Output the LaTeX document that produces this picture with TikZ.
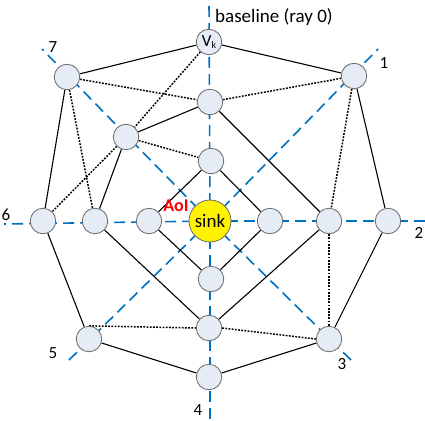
\documentclass[tikz,border=0pt]{standalone}
\usepackage{fontspec}
\setmainfont{Carlito}
\usetikzlibrary{backgrounds}
\definecolor{nodefill}{RGB}{230,236,246}
\definecolor{nodeline}{RGB}{105,105,105}
\definecolor{raycol}{RGB}{0,112,192}
\tikzset{
  vx/.style={circle, draw=nodeline, line width=0.8pt, fill=nodefill, minimum size=25.5pt, inner sep=0pt},
  sinknode/.style={circle, draw=nodeline, line width=0.8pt, fill=yellow, minimum size=42pt, inner sep=0pt, font=\fontsize{19}{19}\selectfont},
  solidedge/.style={draw=black, line width=1.1pt},
  dotedge/.style={draw=black, line width=1.5pt, dash pattern=on 1.8pt off 1.4pt},
  ray/.style={draw=raycol, line width=1.6pt, dash pattern=on 11pt off 6pt},
  lab/.style={font=\fontsize{17}{17}\selectfont, inner sep=0pt}
}
\begin{document}
\begin{tikzpicture}[x=1pt,y=-1pt]
\useasboundingbox (0,0) rectangle (425,420);
% nodes
\node[vx, font=\fontsize{17}{17}\selectfont] (vk) at (209,42) {V\raisebox{-1.5pt}{\fontsize{10}{10}\selectfont k}};
\node[vx] (n7) at (67,77) {};
\node[vx] (n1) at (354,76) {};
\node[vx] (t2) at (210,102) {};
\node[vx] (a2) at (126,137) {};
\node[vx] (t1) at (211,161) {};
\node[vx] (n6) at (43,221) {};
\node[vx] (l2) at (95,221) {};
\node[vx] (l1) at (149,221) {};
\node[sinknode] (sink) at (210,221) {sink};
\node[vx] (r1) at (270,221) {};
\node[vx] (r2) at (329,221) {};
\node[vx] (n2) at (388,221) {};
\node[vx] (b1) at (211,279) {};
\node[vx] (b2) at (209,328) {};
\node[vx] (n4) at (209,377) {};
\node[vx] (n5) at (89,339) {};
\node[vx] (n3) at (329,339) {};
% ray end points
\coordinate (e0) at (209,0);
\coordinate (e1) at (378,49);
\coordinate (e2) at (425,221);
\coordinate (e3) at (354,363);
\coordinate (e4) at (210,420);
\coordinate (e5) at (66,363);
\coordinate (e6) at (4,224);
\coordinate (e7) at (42,49);
% labels
\node[font=\fontsize{19}{19}\selectfont, inner sep=0pt, anchor=base west] (base) at (215,23) {baseline (ray 0)};
\node[lab] (l7) at (53,47) {7};
\node[lab] (lone) at (384,63) {1};
\node[lab] (ltwo) at (419,233) {2};
\node[lab] (lsix) at (6,215) {6};
\node[lab] (lfive) at (53,353) {5};
\node[lab] (lthree) at (342,364) {3};
\node[lab] (lfour) at (198,410.5) {4};
\node[font=\fontsize{18}{18}\selectfont\bfseries, text=red, inner sep=0pt] (aoi) at (176,206) {AoI};
\begin{pgfonlayer}{background}
\foreach \e in {e0,e1,e2,e3,e4,e5,e6,e7}
  \path[ray] (sink.center) -- (\e);
\path[solidedge] (vk) -- (n7);
\path[solidedge] (vk) -- (n1);
\path[solidedge] (n7) -- (n6);
\path[solidedge] (n1) -- (n2);
\path[solidedge] (n6) -- (n5);
\path[solidedge] (n2) -- (n3);
\path[solidedge] (n5) -- (n4);
\path[solidedge] (n3) -- (n4);
\path[solidedge] (t2) -- (a2);
\path[solidedge] (a2) -- (l2);
\path[solidedge] (t2) -- (r2);
\path[solidedge] (l2) -- (b2);
\path[solidedge] (r2) -- (b2);
\path[solidedge] (t1) -- (l1);
\path[solidedge] (t1) -- (r1);
\path[solidedge] (l1) -- (b1);
\path[solidedge] (r1) -- (b1);
\path[dotedge] (vk) -- (a2);
\path[dotedge] (a2) -- (n6);
\path[dotedge] (n7) -- (t2);
\path[dotedge] (t2) -- (n1);
\path[dotedge] (a2) -- (t1);
\path[dotedge] (n7) -- (l2);
\path[dotedge] (n1) -- (r2);
\path[dotedge] (r2) -- (n3);
\path[dotedge] (n5.north) -- (b2.west);
\path[dotedge] (b2.east) -- (n3.west);
\end{pgfonlayer}
\end{tikzpicture}
\end{document}
